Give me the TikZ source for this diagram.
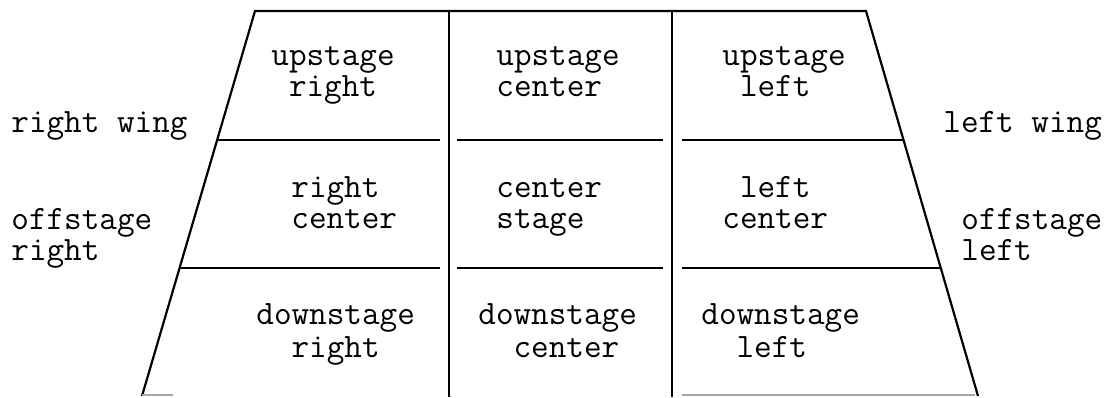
\documentclass[tikz,border=0pt]{standalone}
\newcommand{\twol}[3][15.5pt]{\vtop{\baselineskip=#1\relax\hbox{#2}\hbox{#3}}}
\tikzset{
  edge/.style={line width=1.1pt, black},
  faint/.style={line width=0.8pt, gray!70},
  lbl/.style={anchor=base west, inner sep=0pt, font=\ttfamily\fontsize{17.1}{15.5}\selectfont},
}
\begin{document}
\begin{tikzpicture}[x=0.5pt,y=-0.5pt]
\useasboundingbox (0,0) rectangle (1115,397);
% outline corners
\coordinate (TL) at (255,11);
\coordinate (TR) at (866,11);
\coordinate (BL) at (142,396);
\coordinate (BR) at (978,396);
\coordinate (V1t) at (449,11);
\coordinate (V1b) at (449,397);
\coordinate (V2t) at (672,11);
\coordinate (V2b) at (672,397);
% row line end points
\coordinate (L1) at (217,140);
\coordinate (L2) at (180,268);
\coordinate (R1) at (903,140);
\coordinate (R2) at (941,268);
\coordinate (a1) at (440,140); \coordinate (b1) at (457,140);
\coordinate (c1) at (663,140); \coordinate (d1) at (682,140);
\coordinate (a2) at (440,268); \coordinate (b2) at (457,268);
\coordinate (c2) at (663,268); \coordinate (d2) at (682,268);
\coordinate (g1) at (173,395); \coordinate (g2) at (682,395); \coordinate (g3) at (975,395);
\coordinate (g0) at (142,395);

\draw[edge] (BL) -- (TL) -- (TR) -- (BR);
\draw[edge] (V1t) -- (V1b);
\draw[edge] (V2t) -- (V2b);
\draw[edge] (L1) -- (a1) (b1) -- (c1) (d1) -- (R1);
\draw[edge] (L2) -- (a2) (b2) -- (c2) (d2) -- (R2);
\draw[faint] (g0) -- (g1) (g2) -- (g3);

% cell labels
\node[lbl] (ur) at (271,65) {\twol{upstage}{~right}};
\node[lbl] (uc) at (496,65) {\twol{upstage}{center}};
\node[lbl] (ul) at (722,65) {\twol{upstage}{~left}};
\node[lbl] (rc) at (291,197) {\twol{right}{center}};
\node[lbl] (cs) at (496,197) {\twol{center}{stage}};
\node[lbl] (lc) at (722,197) {\twol{~left}{center}};
\node[lbl] (dr) at (256,324) {\twol[16.5pt]{downstage}{~~right}};
\node[lbl] (dc) at (478,324) {\twol[16.5pt]{downstage}{~~center}};
\node[lbl] (dl) at (701,324) {\twol[16.5pt]{downstage}{~~left}};

% side labels
\node[lbl] (rw) at (11,132) {right wing};
\node[lbl] (osr) at (11,229) {\twol{offstage}{right}};
\node[lbl] (lw) at (943,132) {left wing};
\node[lbl] (osl) at (961,229) {\twol{offstage}{left}};
\end{tikzpicture}
\end{document}
